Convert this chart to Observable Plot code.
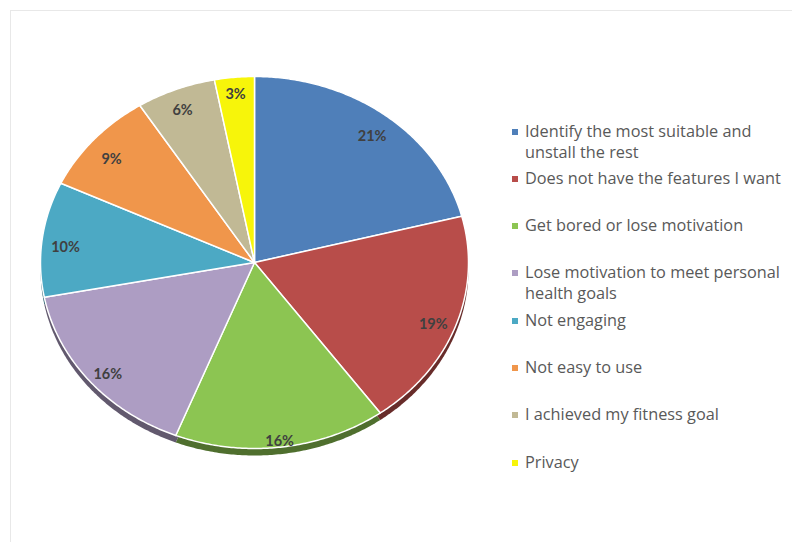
<!DOCTYPE html>
<html><head><meta charset="utf-8">
<script src="https://cdn.jsdelivr.net/npm/d3@7"></script>
<script src="https://cdn.jsdelivr.net/npm/@observablehq/plot@0.6"></script>
<style>
body{margin:0;background:#fff;font-family:"Open Sans",Lato,sans-serif;}
#wrap{position:relative;width:792px;height:542px;overflow:hidden;background:#fff;}
#frame{position:absolute;left:10px;top:10px;width:800px;height:560px;border:1px solid #e8e8e8;box-sizing:border-box;}
#chart{position:absolute;left:0;top:0;}
#legend{position:absolute;left:509px;top:0;}
.item{position:absolute;left:0;width:290px;font-size:16.3px;color:#595959;line-height:21px;padding-left:16px;box-sizing:border-box;white-space:nowrap;}
.sw{position:absolute;left:3px;top:8px;width:6px;height:6px;}
</style></head><body>
<div id="wrap"><div id="frame"></div><div id="chart"></div><div id="legend"></div></div>
<script>
const categories = [
  "Identify the most suitable and unstall the rest",
  "Does not have the features I want",
  "Get bored or lose motivation",
  "Lose motivation to meet personal health goals",
  "Not engaging",
  "Not easy to use",
  "I achieved my fitness goal",
  "Privacy"
];
const legendLines = [
  ["Identify the most suitable and", "unstall the rest"],
  ["Does not have the features I want"],
  ["Get bored or lose motivation"],
  ["Lose motivation to meet personal", "health goals"],
  ["Not engaging"],
  ["Not easy to use"],
  ["I achieved my fitness goal"],
  ["Privacy"]
];
const values = [21, 19, 16, 16, 10, 9, 6, 3];
const colors = ["#4f7fb9", "#b84d4a", "#8cc552", "#ad9dc3", "#4ca9c4", "#f0964b", "#c1b995", "#f7f50a"];

// geometry of the ellipse (pixels)
const cx = 254, cy = 262, rx = 214, ry = 186;

const arcs = d3.pie().sort(null)(values);
const slicePts = [];
const labels = [];
arcs.forEach((a, i) => {
  const cat = categories[i];
  slicePts.push({cat, x: 0, y: 0});
  const n = Math.max(2, Math.ceil((a.endAngle - a.startAngle) / 0.01));
  for (let k = 0; k <= n; k++) {
    const t = a.startAngle + (a.endAngle - a.startAngle) * k / n;
    slicePts.push({cat, x: Math.sin(t), y: Math.cos(t)});
  }
  slicePts.push({cat, x: 0, y: 0});
  const m = (a.startAngle + a.endAngle) / 2;
  const ex = Math.sin(m), ey = Math.cos(m);
  let px = rx * ex, py = -ry * ey;
  const L = Math.hypot(px, py); px /= L; py /= L;
  const inset = 19 * Math.abs(px) + 5 * Math.abs(py) + 4;
  labels.push({
    x: ex - inset * px / rx,
    y: ey + inset * py / ry,
    text: values[i] + "%"
  });
});

const shadow = slicePts.map(d => ({...d}));
const dark = colors.map(c => d3.color(c).darker(1.6).formatHex());

const plot = Plot.plot({
  width: 792, height: 542,
  marginTop: 0, marginRight: 0, marginBottom: 0, marginLeft: 0,
  x: {domain: [-1, 1], range: [cx - rx, cx + rx], axis: null},
  y: {domain: [-1, 1], range: [cy + ry, cy - ry], axis: null},
  color: {domain: categories, range: colors},
  marks: [
    Plot.line(shadow, {x: "x", y: "y", z: "cat", fill: d => dark[categories.indexOf(d.cat)], stroke: "none", dy: 7, curve: "linear"}),
    Plot.line(slicePts, {x: "x", y: "y", z: "cat", fill: "cat", stroke: "white", strokeWidth: 1.5, strokeLinejoin: "round", curve: "linear"}),
    Plot.text(labels, {x: "x", y: "y", text: "text", dy: 6, fill: "#404040", fontSize: 14.5, fontWeight: "bold", fontFamily: "Lato, 'Open Sans', sans-serif"})
  ]
});
document.getElementById("chart").appendChild(plot);

const leg = document.getElementById("legend");
legendLines.forEach((lines, i) => {
  const it = document.createElement("div");
  it.className = "item";
  it.style.top = (120.5 + i * 47.3) + "px";
  const sw = document.createElement("div");
  sw.className = "sw";
  sw.style.background = colors[i];
  it.appendChild(sw);
  it.insertAdjacentHTML("beforeend", lines.join("<br>"));
  leg.appendChild(it);
});
</script>
</body></html>
